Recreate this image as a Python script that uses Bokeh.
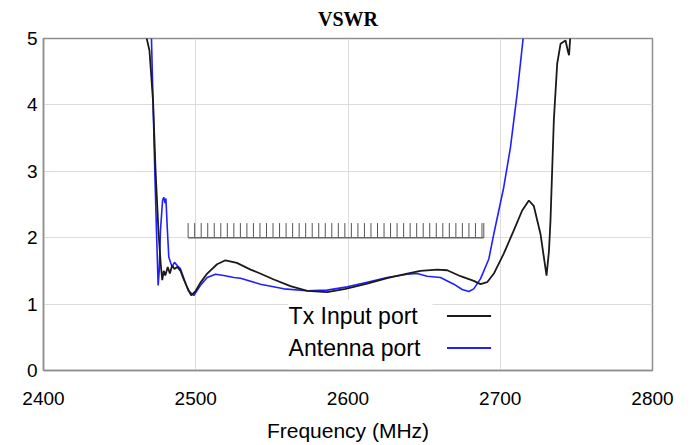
from bokeh.plotting import figure
from bokeh.models import Range1d, FixedTicker
from bokeh.embed import file_html
from bokeh.resources import INLINE
from bokeh.core.properties import value
import numpy as np

# ---- data ----
tx_freq = [2466.8, 2469.6, 2472.0, 2473.6, 2475.5, 2477.0, 2478.0, 2479.0, 2480.0,
           2481.6, 2483.0, 2484.5, 2486.0, 2487.8, 2490.0, 2492.0, 2494.4, 2497.0,
           2500.0, 2503.0, 2507.5, 2514.0, 2519.5, 2527.0, 2536.0, 2540.4, 2551.3,
           2562.2, 2573.2, 2586.3, 2598.4, 2612.6, 2625.7, 2638.9, 2647.6, 2658.6,
           2665.2, 2673.9, 2682.6, 2687.0, 2691.4, 2695.8, 2702.3, 2708.9, 2714.4,
           2718.8, 2722.0, 2726.4, 2729.0, 2730.4, 2732.0, 2733.0, 2735.2, 2737.4,
           2739.6, 2742.9, 2744.5, 2745.2, 2746.2]
tx_vswr = [5.10, 4.82, 4.04, 3.01, 2.10, 1.60, 1.36, 1.50, 1.43,
           1.56, 1.46, 1.58, 1.53, 1.56, 1.50, 1.38, 1.25, 1.13,
           1.20, 1.32, 1.46, 1.60, 1.66, 1.62, 1.52, 1.48, 1.37,
           1.27, 1.20, 1.18, 1.23, 1.31, 1.39, 1.46, 1.50, 1.52,
           1.51, 1.42, 1.35, 1.30, 1.33, 1.46, 1.76, 2.11, 2.41,
           2.56, 2.48, 2.06, 1.65, 1.43, 1.80, 2.26, 3.77, 4.62,
           4.92, 4.97, 4.80, 4.75, 5.10]

ant_freq = [2470.8, 2473.1, 2474.2, 2475.3, 2476.0, 2476.8, 2478.2, 2479.0, 2479.8,
            2480.4, 2481.4, 2482.3, 2483.4, 2484.5, 2486.0, 2487.8, 2490.0, 2492.6,
            2495.2, 2498.7, 2503.0, 2507.5, 2513.0, 2518.4, 2525.0, 2529.4, 2542.5,
            2557.8, 2573.2, 2586.3, 2599.5, 2612.6, 2625.7, 2638.9, 2645.4, 2652.0,
            2660.7, 2669.5, 2675.0, 2679.4, 2682.6, 2687.0, 2692.5, 2695.8, 2702.3,
            2706.7, 2711.1, 2715.5]
ant_vswr = [5.10, 3.00, 2.10, 1.28, 1.50, 2.10, 2.56, 2.61, 2.52,
            2.59, 2.10, 1.71, 1.63, 1.56, 1.63, 1.58, 1.53, 1.36,
            1.20, 1.13, 1.28, 1.40, 1.45, 1.43, 1.40, 1.39, 1.30,
            1.23, 1.20, 1.21, 1.26, 1.33, 1.40, 1.45, 1.46, 1.42,
            1.40, 1.30, 1.22, 1.19, 1.23, 1.38, 1.68, 2.06, 2.76,
            3.36, 4.17, 5.10]

x_ticks = [2400, 2500, 2600, 2700, 2800]
y_ticks = [0, 1, 2, 3, 4, 5]

# channel comb marker (band 2495..2688 MHz)
comb_start, comb_end, comb_count = 2495.0, 2688.0, 46
comb_level, comb_height = 2.0, 0.22

series_names = ["Tx Input port", "Antenna port"]
series_colors = ["#1a1a1a", "#1f1fff"]
title_text = "VSWR"

FONT = "Liberation Sans"

p = figure(width=691, height=445, output_backend="svg", toolbar_location=None,
           x_range=Range1d(2400, 2800), y_range=Range1d(0, 5),
           min_border_left=43, min_border_right=39, min_border_top=38,
           min_border_bottom=75)

p.title.text = title_text
p.title.align = "center"
p.title.text_font = "Liberation Serif"
p.title.text_font_size = "20px"
p.title.text_font_style = "bold"
p.title.text_color = "black"
p.title.vertical_align = "top"
p.title.standoff = 13

p.outline_line_color = "#8f8f8f"
p.outline_line_width = 1.5

for ax in (p.xaxis[0], p.yaxis[0]):
    ax.axis_line_color = "#8f8f8f"
    ax.axis_line_width = 1.5
    ax.major_tick_line_color = None
    ax.minor_tick_line_color = None
    ax.major_tick_out = 0
    ax.major_tick_in = 0
    ax.major_label_text_font = FONT
    ax.major_label_text_font_size = "19px"
    ax.major_label_text_color = "black"

p.xaxis.ticker = FixedTicker(ticks=x_ticks)
p.yaxis.ticker = FixedTicker(ticks=y_ticks)
p.xaxis.major_label_standoff = 21
p.yaxis.major_label_standoff = 6
p.xaxis.axis_label = "Frequency (MHz)"
p.xaxis.axis_label_text_font = FONT
p.xaxis.axis_label_text_font_size = "21px"
p.xaxis.axis_label_text_font_style = "normal"
p.xaxis.axis_label_text_color = "black"
p.xaxis.axis_label_standoff = 11

p.xgrid.grid_line_color = "#dcdcdc"
p.ygrid.grid_line_color = "#dcdcdc"
p.xgrid.grid_line_width = 1
p.ygrid.grid_line_width = 1

# white legend box
p.quad(left=2560.5, right=2655.5, bottom=0.02, top=1.06,
       fill_color="white", line_color=None)

# comb
comb_x = np.linspace(comb_start, comb_end, comb_count).tolist() + [comb_end + 1.2]
p.segment(x0=comb_x, y0=[comb_level] * len(comb_x), x1=comb_x,
          y1=[comb_level + comb_height] * len(comb_x),
          line_color="#555555", line_width=1)
p.segment(x0=[comb_start], y0=[comb_level], x1=[comb_end + 1.2], y1=[comb_level],
          line_color="#666666", line_width=1.5)

# curves
p.line(ant_freq, ant_vswr, line_color=series_colors[1], line_width=1.6)
p.line(tx_freq, tx_vswr, line_color=series_colors[0], line_width=1.8)

# legend (label left, line right)
leg_y = [0.82, 0.34]
p.text(x=[2561, 2561], y=leg_y, text=series_names,
       text_font=value(FONT), text_font_size="23px", text_color="black",
       text_align="left", text_baseline="middle")
p.segment(x0=[2665, 2665], y0=leg_y, x1=[2694, 2694], y1=leg_y,
          line_color=series_colors, line_width=2)

open("out.html", "w").write(file_html(p, INLINE))
